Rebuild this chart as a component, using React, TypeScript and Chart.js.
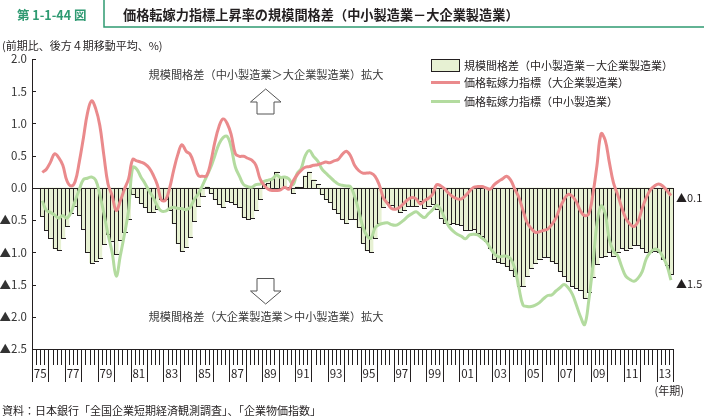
import React, { useEffect, useRef } from "react";
import { Chart, registerables } from "chart.js";

Chart.register(...registerables);

const FIRST_YEAR = 1975;
const LAST_YEAR = 2013;

const quarters: string[] = [];
for (let y = FIRST_YEAR; y <= LAST_YEAR; y++) {
  for (let q = 1; q <= 4; q++) quarters.push(`${y}Q${q}`);
}

const yearTickLabels = ["75", "77", "79", "81", "83", "85", "87", "89", "91", "93", "95", "97", "99", "01", "03", "05", "07", "09", "11", "13"];
const yTickValues = [2.0, 1.5, 1.0, 0.5, 0.0, -0.5, -1.0, -1.5, -2.0, -2.5];

// 規模間格差（中小製造業－大企業製造業）
const gap: (number | null)[] = [
  null, null,
  -0.44, -0.66, -0.77, -0.94, -0.97, -0.78, -0.59, -0.39, -0.28, -0.42,
  -0.64, -0.99, -1.16, -1.14, -1.09, -0.87, -0.72, -0.83, -1.03, -0.81,
  -0.69, -0.48, -0.10, -0.14, -0.23, -0.30, -0.37, -0.37, -0.32, -0.18,
  -0.17, -0.34, -0.55, -0.86, -0.98, -0.92, -0.76, -0.52, -0.28, -0.12,
  0.02, -0.08, -0.18, -0.25, -0.30, -0.21, -0.22, -0.25, -0.30, -0.45,
  -0.48, -0.47, -0.34, -0.17, 0.06, 0.08, 0.14, 0.25, 0.17, 0.17,
  0.01, -0.08, 0.02, 0.01, 0.19, 0.25, 0.13, 0.06, -0.09, -0.17,
  -0.22, -0.32, -0.39, -0.48, -0.54, -0.48, -0.48, -0.61, -0.85, -0.97,
  -0.99, -0.78, -0.55, -0.30, -0.22, -0.27, -0.32, -0.38, -0.34, -0.28,
  -0.28, -0.28, -0.21, -0.31, -0.28, -0.25, -0.33, -0.46, -0.55, -0.56,
  -0.55, -0.56, -0.57, -0.66, -0.66, -0.64, -0.70, -0.74, -0.82, -0.93,
  -1.11, -1.15, -1.16, -1.21, -1.28, -1.37, -1.52, -1.52, -1.37, -1.24,
  -1.16, -1.11, -1.07, -1.07, -1.14, -1.17, -1.29, -1.37, -1.45, -1.52,
  -1.55, -1.59, -1.71, -1.62, -1.38, -1.18, -1.08, -1.05, -0.99, -1.06,
  -1.00, -0.94, -0.96, -0.94, -0.88, -0.88, -0.94, -0.99, -0.99, -0.98,
  -1.00, -1.11, -1.19, -1.33,
];

// 価格転嫁力指標（大企業製造業）
const largeFirms: (number | null)[] = [
  null, null,
  0.24, 0.29, 0.40, 0.53, 0.47, 0.35, 0.11, 0.03, 0.10, 0.40,
  0.77, 1.16, 1.35, 1.23, 0.97, 0.50, 0.06, -0.12, -0.35, -0.20,
  -0.02, 0.14, 0.44, 0.42, 0.40, 0.37, 0.31, 0.20, 0.05, -0.19,
  -0.19, 0.00, 0.28, 0.52, 0.67, 0.57, 0.52, 0.36, 0.19, 0.18,
  0.19, 0.40, 0.71, 0.95, 1.07, 1.00, 0.82, 0.53, 0.49, 0.49,
  0.46, 0.43, 0.35, 0.14, 0.04, -0.02, -0.04, -0.04, -0.03, 0.01,
  -0.02, 0.10, 0.20, 0.27, 0.32, 0.33, 0.35, 0.36, 0.38, 0.40,
  0.39, 0.42, 0.44, 0.52, 0.57, 0.50, 0.35, 0.27, 0.23, 0.23,
  0.23, 0.18, 0.05, -0.15, -0.24, -0.32, -0.33, -0.30, -0.24, -0.18,
  -0.15, -0.17, -0.25, -0.20, -0.16, -0.10, 0.05, 0.03, -0.02, -0.09,
  -0.14, -0.17, -0.17, -0.12, -0.05, 0.01, 0.02, 0.02, 0.00, -0.02,
  0.05, 0.10, 0.14, 0.18, 0.12, -0.02, -0.15, -0.35, -0.54, -0.63,
  -0.69, -0.68, -0.66, -0.64, -0.57, -0.47, -0.31, -0.18, -0.10, -0.13,
  -0.22, -0.36, -0.43, -0.40, -0.10, 0.35, 0.84, 0.74, 0.40, 0.08,
  -0.10, -0.30, -0.47, -0.56, -0.60, -0.52, -0.32, -0.15, -0.03, 0.03,
  0.06, 0.03, -0.04, -0.12,
];

// 価格転嫁力指標（中小製造業）
const smallFirms: (number | null)[] = [
  null, null,
  -0.20, -0.35, -0.38, -0.42, -0.47, -0.43, -0.47, -0.38, -0.20, -0.03,
  0.13, 0.15, 0.17, 0.12, -0.10, -0.40, -0.72, -1.00, -1.37, -1.05,
  -0.72, -0.35, 0.32, 0.29, 0.17, 0.07, -0.05, -0.15, -0.28, -0.36,
  -0.36, -0.32, -0.30, -0.32, -0.32, -0.34, -0.30, -0.18, -0.09, 0.04,
  0.18, 0.32, 0.50, 0.68, 0.78, 0.80, 0.62, 0.32, 0.18, 0.05,
  0.02, 0.01, 0.05, 0.06, 0.10, 0.12, 0.14, 0.20, 0.16, 0.17,
  0.14, 0.05, 0.22, 0.30, 0.50, 0.58, 0.49, 0.42, 0.30, 0.23,
  0.17, 0.11, 0.06, 0.04, 0.03, 0.02, -0.13, -0.35, -0.60, -0.74,
  -0.78, -0.62, -0.57, -0.55, -0.54, -0.57, -0.58, -0.55, -0.50, -0.44,
  -0.40, -0.37, -0.42, -0.46, -0.40, -0.34, -0.27, -0.34, -0.48, -0.60,
  -0.67, -0.72, -0.75, -0.79, -0.73, -0.72, -0.73, -0.78, -0.83, -0.93,
  -1.02, -1.07, -1.06, -1.06, -1.10, -1.25, -1.55, -1.82, -1.84, -1.84,
  -1.82, -1.78, -1.72, -1.67, -1.66, -1.60, -1.55, -1.50, -1.55, -1.65,
  -1.82, -2.00, -2.12, -1.75, -1.20, -0.55, -0.28, -0.40, -0.80, -0.98,
  -1.05, -1.22, -1.37, -1.42, -1.45, -1.40, -1.30, -1.10, -1.00, -0.95,
  -0.97, -1.07, -1.20, -1.43,
];

const FONT = '"Noto Sans CJK JP", "Noto Sans", sans-serif';
const TEXT = "#231f20";
const BAR_FILL = "#e7f1d3";
const BAR_EDGE = "#231f20";
const RED = "#ea8a8c";
const GREEN = "#b3db9f";
const TEAL = "#2f9a72";

const decorPlugin = {
  id: "decor",
  afterDatasetDraw(chart: any, args: any) {
    if (args.index !== 0) return;
    const { ctx, chartArea } = chart;
    const y = chart.scales.y;
    ctx.save();
    ctx.strokeStyle = BAR_EDGE;
    ctx.lineWidth = 1;
    const meta = chart.getDatasetMeta(0);
    const els = meta.data;
    let lastRight: number | null = null;
    let lastEnd: number | null = null;
    let lastBase: number | null = null;
    els.forEach((el: any, i: number) => {
      const v = gap[i];
      if (v === null || v === undefined) return;
      const l = Math.round(el.x - el.width / 2);
      const r = Math.round(el.x + el.width / 2);
      const e = Math.round(el.y);
      const b = Math.round(el.base);
      ctx.beginPath();
      ctx.moveTo(l + 0.5, b);
      ctx.lineTo(l + 0.5, e);
      ctx.moveTo(l, e + 0.5);
      ctx.lineTo(r + 1, e + 0.5);
      ctx.stroke();
      lastRight = r;
      lastEnd = e;
      lastBase = b;
    });
    if (lastRight !== null) {
      ctx.beginPath();
      ctx.moveTo((lastRight as number) + 0.5, lastBase as number);
      ctx.lineTo((lastRight as number) + 0.5, lastEnd as number);
      ctx.stroke();
    }
    const py = Math.round(y.getPixelForValue(0)) + 0.5;
    ctx.beginPath();
    ctx.moveTo(chartArea.left, py);
    ctx.lineTo(chartArea.right, py);
    ctx.stroke();
    ctx.restore();
  },
  afterDraw(chart: any) {
    const { ctx, chartArea } = chart;
    const x = chart.scales.x;
    const y = chart.scales.y;
    const { left, right, bottom } = chartArea;
    ctx.save();
    ctx.strokeStyle = TEXT;
    ctx.lineWidth = 1;

    const lx = Math.round(left) + 0.5;
    ctx.beginPath();
    ctx.moveTo(lx, chartArea.top);
    ctx.lineTo(lx, bottom + 33);
    ctx.stroke();
    const by = Math.round(bottom) + 0.5;
    ctx.beginPath();
    ctx.moveTo(left, by);
    ctx.lineTo(right, by);
    ctx.stroke();

    for (const v of yTickValues) {
      const py = Math.round(y.getPixelForValue(v)) + 0.5;
      ctx.beginPath();
      ctx.moveTo(left, py);
      ctx.lineTo(left + 4, py);
      ctx.stroke();
    }

    const n = quarters.length;
    const w = x.getPixelForValue(1) - x.getPixelForValue(0);
    const x0 = x.getPixelForValue(0) - w / 2;
    for (let k = 0; k <= n; k++) {
      const px = Math.round(x0 + k * w) + 0.5;
      const long = k % 4 === 0;
      ctx.beginPath();
      ctx.moveTo(px, bottom);
      ctx.lineTo(px, bottom + (long ? 33 : 16));
      ctx.stroke();
    }

    ctx.fillStyle = TEXT;
    ctx.font = `11.5px ${FONT}`;
    ctx.textAlign = "center";
    ctx.textBaseline = "middle";
    yearTickLabels.forEach((lab, i) => {
      const idx = i * 8;
      const px = x.getPixelForValue(idx) - w / 2 + 2 * w;
      ctx.fillText(lab, px, bottom + 25);
    });
    ctx.font = `11px ${FONT}`;
    ctx.textAlign = "right";
    ctx.fillText("(年期)", 684, 391);

    ctx.textAlign = "left";
    ctx.font = `11px ${FONT}`;
    ctx.fillText("▲0.1", 676, 198);
    ctx.fillText("▲1.5", 676, 284);

    ctx.strokeStyle = TEAL;
    ctx.lineWidth = 1.5;
    ctx.beginPath();
    ctx.moveTo(104, 0);
    ctx.lineTo(104, 27);
    ctx.lineTo(704, 27);
    ctx.stroke();
    ctx.fillStyle = TEAL;
    ctx.font = `bold 12.5px ${FONT}`;
    ctx.fillText("第 1-1-44 図", 17, 15);
    ctx.fillStyle = TEXT;
    ctx.font = `bold 13.2px ${FONT}`;
    ctx.fillText("価格転嫁力指標上昇率の規模間格差（中小製造業－大企業製造業）", 123, 15);

    ctx.font = `11px ${FONT}`;
    ctx.fillText("(前期比、後方４期移動平均、%)", 2, 46);
    ctx.fillText("資料：日本銀行「全国企業短期経済観測調査」、「企業物価指数」", 2, 411);

    ctx.textAlign = "center";
    ctx.font = `11.2px ${FONT}`;
    ctx.fillStyle = "#3a3a3a";
    ctx.fillText("規模間格差（中小製造業＞大企業製造業）拡大", 266, 75);
    ctx.fillText("規模間格差（大企業製造業＞中小製造業）拡大", 266, 317);

    ctx.strokeStyle = "#555";
    ctx.fillStyle = "#fff";
    ctx.lineWidth = 1;
    const up = [[265.7, 89], [281, 102], [274, 102], [274, 114], [257, 114], [257, 102], [250.5, 102]];
    const down = [[265.7, 304], [281, 291], [274, 291], [274, 278.5], [257, 278.5], [257, 291], [250.5, 291]];
    for (const poly of [up, down]) {
      ctx.beginPath();
      poly.forEach(([px, py], i) => (i === 0 ? ctx.moveTo(px, py) : ctx.lineTo(px, py)));
      ctx.closePath();
      ctx.fill();
      ctx.stroke();
    }

    ctx.fillStyle = BAR_FILL;
    ctx.fillRect(431.5, 59.5, 28, 12);
    ctx.strokeStyle = BAR_EDGE;
    ctx.lineWidth = 1;
    ctx.strokeRect(431.5, 59.5, 28, 12);
    ctx.lineWidth = 3;
    ctx.strokeStyle = RED;
    ctx.beginPath();
    ctx.moveTo(431, 82.5);
    ctx.lineTo(460, 82.5);
    ctx.stroke();
    ctx.strokeStyle = GREEN;
    ctx.beginPath();
    ctx.moveTo(431, 101.5);
    ctx.lineTo(460, 101.5);
    ctx.stroke();
    ctx.fillStyle = TEXT;
    ctx.textAlign = "left";
    ctx.font = `11px ${FONT}`;
    ctx.fillText("規模間格差（中小製造業－大企業製造業）", 464, 65.5);
    ctx.fillText("価格転嫁力指標（大企業製造業）", 464, 83);
    ctx.fillText("価格転嫁力指標（中小製造業）", 464, 102);

    ctx.restore();
  },
};

export default function App() {
  const ref = useRef<HTMLCanvasElement | null>(null);

  useEffect(() => {
    if (!ref.current) return;
    const chart = new Chart(ref.current, {
      type: "bar",
      data: {
        labels: quarters,
        datasets: [
          {
            type: "bar",
            label: "規模間格差（中小製造業－大企業製造業）",
            data: gap,
            backgroundColor: BAR_FILL,
            borderWidth: 0,
            categoryPercentage: 1,
            barPercentage: 1,
            order: 3,
          } as any,
          {
            type: "line",
            label: "価格転嫁力指標（大企業製造業）",
            data: largeFirms,
            borderColor: RED,
            borderWidth: 3,
            pointRadius: 0,
            tension: 0.4,
            fill: false,
            order: 1,
          } as any,
          {
            type: "line",
            label: "価格転嫁力指標（中小製造業）",
            data: smallFirms,
            borderColor: GREEN,
            borderWidth: 3,
            pointRadius: 0,
            tension: 0.4,
            fill: false,
            order: 2,
          } as any,
        ],
      },
      options: {
        responsive: false,
        animation: false,
        devicePixelRatio: 1,
        layout: { padding: { left: 0, top: 59, right: 31, bottom: 71 } },
        plugins: { legend: { display: false }, tooltip: { enabled: false } },
        scales: {
          x: { display: false, offset: true },
          y: {
            min: -2.5,
            max: 2.0,
            afterFit: (s: any) => {
              s.width = 32;
            },
            grid: { display: false, drawTicks: false },
            border: { display: true, color: TEXT, width: 1 },
            ticks: {
              stepSize: 0.5,
              padding: 5,
              color: "#333",
              font: { family: FONT, size: 11.5 },
              callback: (v: any) => {
                const n = Number(v);
                return n < 0 ? "▲" + Math.abs(n).toFixed(1) : n.toFixed(1);
              },
            },
          },
        },
      },
      plugins: [decorPlugin],
    });
    return () => chart.destroy();
  }, []);

  return (
    <div style={{ position: "fixed", left: 0, top: 0, width: 704, height: 420, background: "#fff" }}>
      <canvas ref={ref} width={704} height={420} style={{ width: 704, height: 420, display: "block" }} />
    </div>
  );
}
